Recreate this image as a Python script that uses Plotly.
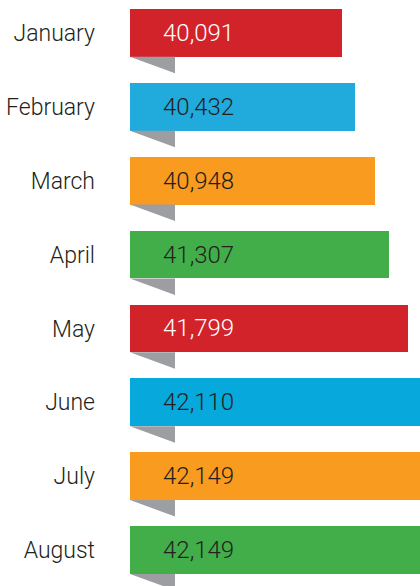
import plotly.graph_objects as go

# Monthly totals
months = ["January", "February", "March", "April", "May", "June", "July", "August"]
values = [40091, 40432, 40948, 41307, 41799, 42110, 42149, 42149]
bar_colors = ["#d2232a", "#21aadc", "#f89b1f", "#42ae4a",
              "#d2232a", "#07a8db", "#f89b1f", "#42ae4a"]
value_text_colors = ["#ffffff", "#231f20", "#231f20", "#231f20",
                     "#ffffff", "#231f20", "#231f20", "#231f20"]

FONT = "Roboto, DejaVu Sans Condensed, sans-serif"
INK = "#231f20"
FOLD = "#9d9ea2"

W, H = 420, 586
LEFT = 130
X_RANGE = [34633, 42096]
BAR_W = 0.646
STEP_PX = 73.86

fig = go.Figure()

fig.add_trace(go.Bar(
    y=months,
    x=values,
    orientation="h",
    width=BAR_W,
    marker=dict(color=bar_colors, line=dict(width=0)),
    hoverinfo="skip",
    showlegend=False,
))

# Folded-ribbon tails under the left end of each bar, plus the value labels
fold_w = 45 / (W - LEFT)
fold_h = 16.5 / STEP_PX
shapes = []
annotations = []
for i, (m, v, tc) in enumerate(zip(months, values, value_text_colors)):
    y0 = i + BAR_W / 2
    shapes.append(dict(
        type="path",
        xref="paper", yref="y",
        path=f"M 0 {y0} L {fold_w} {y0} L {fold_w} {y0 + fold_h} Z",
        fillcolor=FOLD, line=dict(width=0), layer="above",
    ))
    annotations.append(dict(
        x=31 / (W - LEFT), xref="paper", xanchor="left",
        y=m, yref="y", yanchor="middle",
        text=f"{v:,}", showarrow=False,
        font=dict(family=FONT, size=24, weight=300, color=tc),
    ))

top = -33 / STEP_PX
bottom = top + H / STEP_PX

fig.update_layout(
    width=W, height=H,
    margin=dict(l=LEFT, r=0, t=0, b=0, autoexpand=False),
    paper_bgcolor="white", plot_bgcolor="white",
    xaxis=dict(range=X_RANGE, visible=False, fixedrange=True, automargin=False),
    yaxis=dict(
        range=[bottom, top],
        automargin=False,
        showgrid=False, zeroline=False, showline=False,
        ticks="", ticklabelstandoff=34,
        tickfont=dict(family=FONT, size=23, weight=300, color=INK),
        fixedrange=True,
    ),
    shapes=shapes,
    annotations=annotations,
    bargap=0,
)

fig.write_html("out.html", config={"displayModeBar": False})
